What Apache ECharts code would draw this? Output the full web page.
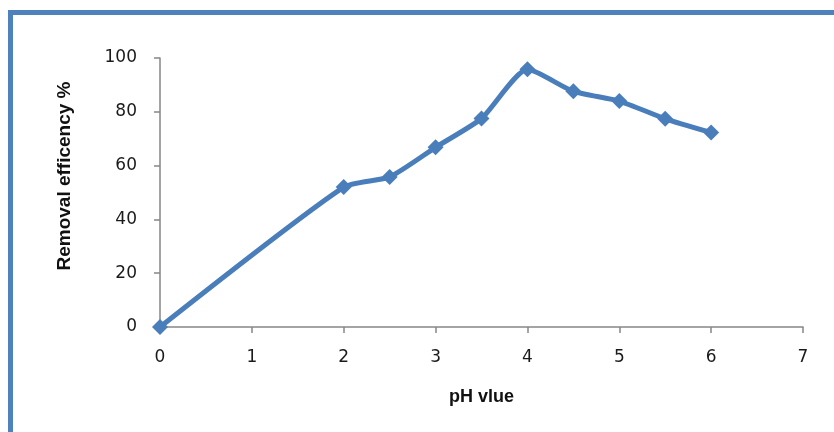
<!DOCTYPE html>
<html><head><meta charset="utf-8">
<script src="https://cdn.jsdelivr.net/npm/echarts@6/dist/echarts.min.js"></script>
<style>html,body{margin:0;padding:0;background:#fff}#c{width:834px;height:432px}</style>
</head><body><div id="c"></div>
<script>
var phValues = [0, 2, 2.5, 3, 3.5, 4, 4.5, 5, 5.5, 6];
var removalEfficiency = [0, 52, 55.8, 66.8, 77.5, 95.8, 87.6, 84, 77.4, 72.3];
var xTicks = [0, 1, 2, 3, 4, 5, 6, 7];
var yTicks = [0, 20, 40, 60, 80, 100];
var xTitle = 'pH vlue';
var yTitle = 'Removal efficency %';

var chart = echarts.init(document.getElementById('c'), null, {renderer: 'canvas'});
var pts = phValues.map(function (x, i) { return [x, removalEfficiency[i]]; });
var lineColor = '#4a7ebb';
chart.setOption({
  animation: false,
  backgroundColor: '#ffffff',
  graphic: [{
    type: 'polyline',
    shape: { points: [[10.5, 440], [10.5, 12.5], [840, 12.5]] },
    style: { stroke: '#4f81bd', lineWidth: 5, fill: null },
    z: 10
  }, {
    type: 'text',
    x: 65, y: 176,
    rotation: Math.PI / 2,
    style: {
      text: yTitle, fontFamily: 'Liberation Sans', fontWeight: 'bold', fontSize: 19,
      fill: '#111', align: 'center', verticalAlign: 'middle'
    },
    z: 10
  }],
  grid: { left: 160, right: 31, top: 58, bottom: 105 },
  xAxis: {
    type: 'value', min: xTicks[0], max: xTicks[xTicks.length - 1], interval: 1,
    name: xTitle, nameLocation: 'middle', nameGap: 61,
    nameTextStyle: { fontFamily: 'Liberation Sans', fontWeight: 'bold', fontSize: 18, color: '#111' },
    axisLine: { lineStyle: { color: '#868686', width: 1.5 } },
    axisTick: { show: true, length: 6, inside: false, lineStyle: { color: '#868686', width: 1.5 } },
    axisLabel: { fontFamily: 'DejaVu Sans', fontSize: 17, color: '#1a1a1a', margin: 22 },
    splitLine: { show: false }
  },
  yAxis: {
    type: 'value', min: yTicks[0], max: yTicks[yTicks.length - 1], interval: 20,
    axisLine: { show: true, lineStyle: { color: '#868686', width: 1.5 } },
    axisTick: { show: true, length: 6, inside: false, lineStyle: { color: '#868686', width: 1.5 } },
    axisLabel: { fontFamily: 'DejaVu Sans', fontSize: 17, color: '#1a1a1a', margin: 23 },
    splitLine: { show: false }
  },
  series: [{
    type: 'line',
    data: pts,
    smooth: 0.2,
    symbol: 'diamond',
    symbolSize: 16,
    lineStyle: { color: lineColor, width: 5 },
    itemStyle: { color: lineColor },
    z: 5
  }]
});
</script>
</body></html>
